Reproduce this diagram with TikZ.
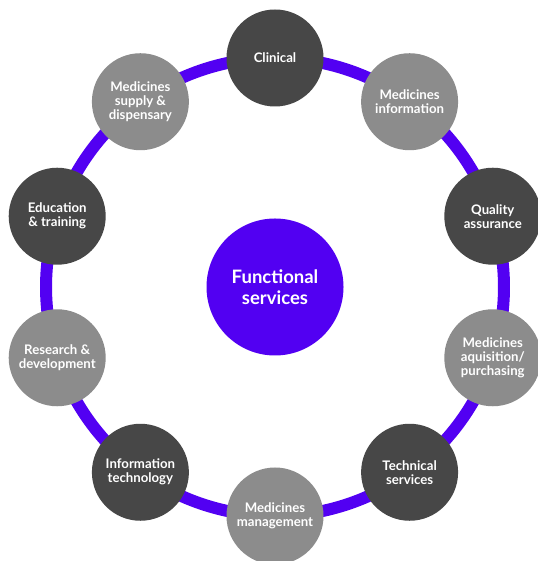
\documentclass[tikz,border=0pt]{standalone}
\usepackage{fontspec}
\setmainfont{Lato}
\usetikzlibrary{backgrounds,calc}
\definecolor{ringpurple}{HTML}{5200F2}
\definecolor{darkgrey}{HTML}{474747}
\definecolor{lightgrey}{HTML}{8C8C8C}
\tikzset{
  svc/.style={circle, minimum size=97pt, inner sep=0pt, text=white, align=center,
    font=\bfseries\fontsize{13.2}{14}\selectfont},
  darksvc/.style={svc, fill=darkgrey},
  lightsvc/.style={svc, fill=lightgrey},
  hub/.style={circle, minimum size=137pt, inner sep=0pt, fill=ringpurple, text=white,
    align=center, font=\bfseries\fontsize{18.5}{21}\selectfont},
  ring/.style={draw=ringpurple, line width=12pt}
}
\begin{document}
\begin{tikzpicture}[x=1pt,y=1pt]
\useasboundingbox (0,0) rectangle (537,561);
\coordinate (C) at (275,274);
\node[hub] (hub) at (C) {Functional\\services};
\node[darksvc]  (n1)  at ($(C)+(90:229)$)   {Clinical};
\node[lightsvc] (n2)  at ($(C)+(54:229)$)   {Medicines\\information};
\node[darksvc]  (n3)  at ($(C)+(18:229)$)   {Quality\\assurance};
\node[lightsvc] (n4)  at ($(C)+(-18:229)$)  {Medicines\\aquisition/\\purchasing};
\node[darksvc]  (n5)  at ($(C)+(-54:229)$)  {Technical\\services};
\node[lightsvc] (n6)  at ($(C)+(-90:229)$)  {Medicines\\management};
\node[darksvc]  (n7)  at ($(C)+(-126:229)$) {Information\\technology};
\node[lightsvc] (n8)  at ($(C)+(-162:229)$) {Research \&\\development};
\node[darksvc]  (n9)  at ($(C)+(162:229)$)  {Education\\\& training};
\node[lightsvc] (n10) at ($(C)+(126:229)$)  {Medicines\\supply \&\\dispensary};
\begin{scope}[on background layer]
  \fill[white] (0,0) rectangle (537,561);
  \foreach \a/\b in {n1/n2,n2/n3,n3/n4,n4/n5,n5/n6,n6/n7,n7/n8,n8/n9,n9/n10,n10/n1}
    \draw[ring] (\a.center) to[bend left=18, looseness=0.874] (\b.center);
\end{scope}
\end{tikzpicture}
\end{document}
